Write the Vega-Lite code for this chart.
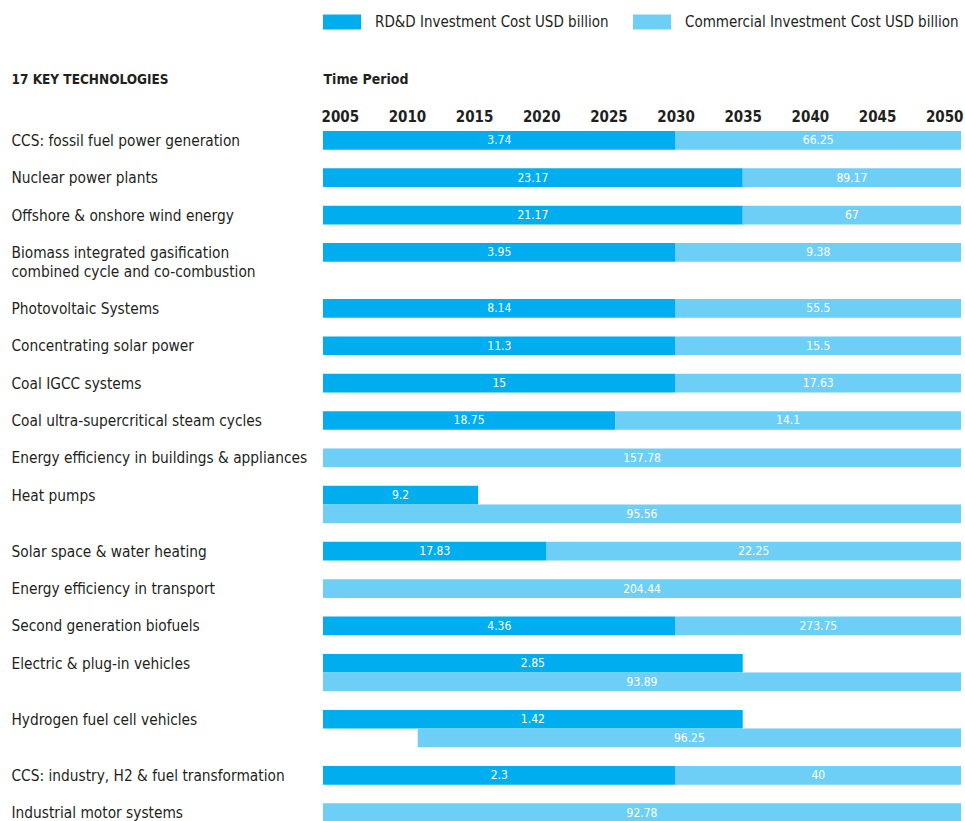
{
  "$schema": "https://vega.github.io/schema/vega-lite/v6.json",
  "width": 638,
  "height": 691,
  "autosize": {"type": "none"},
  "padding": {"left": 323, "top": 131, "right": 4, "bottom": 0},
  "background": "white",
  "config": {
    "view": {"stroke": null},
    "font": "DejaVu Sans Condensed, Liberation Sans, sans-serif"
  },
  "data": {
    "values": [
      {"tech": "CCS: fossil fuel power generation", "slot": "CCS: fossil fuel power generation", "type": "RD&D Investment Cost USD billion", "start": 2003.75, "end": 2030, "value": "3.74"},
      {"tech": "CCS: fossil fuel power generation", "slot": "CCS: fossil fuel power generation", "type": "Commercial Investment Cost USD billion", "start": 2030, "end": 2051.25, "value": "66.25"},
      {"tech": "Nuclear power plants", "slot": "Nuclear power plants", "type": "RD&D Investment Cost USD billion", "start": 2003.75, "end": 2035, "value": "23.17"},
      {"tech": "Nuclear power plants", "slot": "Nuclear power plants", "type": "Commercial Investment Cost USD billion", "start": 2035, "end": 2051.25, "value": "89.17"},
      {"tech": "Offshore & onshore wind energy", "slot": "Offshore & onshore wind energy", "type": "RD&D Investment Cost USD billion", "start": 2003.75, "end": 2035, "value": "21.17"},
      {"tech": "Offshore & onshore wind energy", "slot": "Offshore & onshore wind energy", "type": "Commercial Investment Cost USD billion", "start": 2035, "end": 2051.25, "value": "67"},
      {"tech": "Biomass integrated gasification combined cycle and co-combustion", "slot": "Biomass integrated gasification combined cycle and co-combustion", "type": "RD&D Investment Cost USD billion", "start": 2003.75, "end": 2030, "value": "3.95"},
      {"tech": "Biomass integrated gasification combined cycle and co-combustion", "slot": "Biomass integrated gasification combined cycle and co-combustion", "type": "Commercial Investment Cost USD billion", "start": 2030, "end": 2051.25, "value": "9.38"},
      {"tech": "Photovoltaic Systems", "slot": "Photovoltaic Systems", "type": "RD&D Investment Cost USD billion", "start": 2003.75, "end": 2030, "value": "8.14"},
      {"tech": "Photovoltaic Systems", "slot": "Photovoltaic Systems", "type": "Commercial Investment Cost USD billion", "start": 2030, "end": 2051.25, "value": "55.5"},
      {"tech": "Concentrating solar power", "slot": "Concentrating solar power", "type": "RD&D Investment Cost USD billion", "start": 2003.75, "end": 2030, "value": "11.3"},
      {"tech": "Concentrating solar power", "slot": "Concentrating solar power", "type": "Commercial Investment Cost USD billion", "start": 2030, "end": 2051.25, "value": "15.5"},
      {"tech": "Coal IGCC systems", "slot": "Coal IGCC systems", "type": "RD&D Investment Cost USD billion", "start": 2003.75, "end": 2030, "value": "15"},
      {"tech": "Coal IGCC systems", "slot": "Coal IGCC systems", "type": "Commercial Investment Cost USD billion", "start": 2030, "end": 2051.25, "value": "17.63"},
      {"tech": "Coal ultra-supercritical steam cycles", "slot": "Coal ultra-supercritical steam cycles", "type": "RD&D Investment Cost USD billion", "start": 2003.75, "end": 2025.5, "value": "18.75"},
      {"tech": "Coal ultra-supercritical steam cycles", "slot": "Coal ultra-supercritical steam cycles", "type": "Commercial Investment Cost USD billion", "start": 2025.5, "end": 2051.25, "value": "14.1"},
      {"tech": "Energy efficiency in buildings & appliances", "slot": "Energy efficiency in buildings & appliances", "type": "Commercial Investment Cost USD billion", "start": 2003.75, "end": 2051.25, "value": "157.78"},
      {"tech": "Heat pumps", "slot": "Heat pumps", "type": "RD&D Investment Cost USD billion", "start": 2003.75, "end": 2015.3, "value": "9.2"},
      {"tech": "Heat pumps", "slot": "Heat pumps #2", "type": "Commercial Investment Cost USD billion", "start": 2003.75, "end": 2051.25, "value": "95.56"},
      {"tech": "Solar space & water heating", "slot": "Solar space & water heating", "type": "RD&D Investment Cost USD billion", "start": 2003.75, "end": 2020.4, "value": "17.83"},
      {"tech": "Solar space & water heating", "slot": "Solar space & water heating", "type": "Commercial Investment Cost USD billion", "start": 2020.4, "end": 2051.25, "value": "22.25"},
      {"tech": "Energy efficiency in transport", "slot": "Energy efficiency in transport", "type": "Commercial Investment Cost USD billion", "start": 2003.75, "end": 2051.25, "value": "204.44"},
      {"tech": "Second generation biofuels", "slot": "Second generation biofuels", "type": "RD&D Investment Cost USD billion", "start": 2003.75, "end": 2030, "value": "4.36"},
      {"tech": "Second generation biofuels", "slot": "Second generation biofuels", "type": "Commercial Investment Cost USD billion", "start": 2030, "end": 2051.25, "value": "273.75"},
      {"tech": "Electric & plug-in vehicles", "slot": "Electric & plug-in vehicles", "type": "RD&D Investment Cost USD billion", "start": 2003.75, "end": 2035, "value": "2.85"},
      {"tech": "Electric & plug-in vehicles", "slot": "Electric & plug-in vehicles #2", "type": "Commercial Investment Cost USD billion", "start": 2003.75, "end": 2051.25, "value": "93.89"},
      {"tech": "Hydrogen fuel cell vehicles", "slot": "Hydrogen fuel cell vehicles", "type": "RD&D Investment Cost USD billion", "start": 2003.75, "end": 2035, "value": "1.42"},
      {"tech": "Hydrogen fuel cell vehicles", "slot": "Hydrogen fuel cell vehicles #2", "type": "Commercial Investment Cost USD billion", "start": 2010.8, "end": 2051.25, "value": "96.25"},
      {"tech": "CCS: industry, H2 & fuel transformation", "slot": "CCS: industry, H2 & fuel transformation", "type": "RD&D Investment Cost USD billion", "start": 2003.75, "end": 2030, "value": "2.3"},
      {"tech": "CCS: industry, H2 & fuel transformation", "slot": "CCS: industry, H2 & fuel transformation", "type": "Commercial Investment Cost USD billion", "start": 2030, "end": 2051.25, "value": "40"},
      {"tech": "Industrial motor systems", "slot": "Industrial motor systems", "type": "Commercial Investment Cost USD billion", "start": 2003.75, "end": 2051.25, "value": "92.78"}
    ]
  },
  "encoding": {
    "y": {
      "field": "slot",
      "type": "nominal",
      "scale": {
        "domain": [
          "CCS: fossil fuel power generation", "_g1",
          "Nuclear power plants", "_g2",
          "Offshore & onshore wind energy", "_g3",
          "Biomass integrated gasification combined cycle and co-combustion", "_g4", "_g5",
          "Photovoltaic Systems", "_g6",
          "Concentrating solar power", "_g7",
          "Coal IGCC systems", "_g8",
          "Coal ultra-supercritical steam cycles", "_g9",
          "Energy efficiency in buildings & appliances", "_g10",
          "Heat pumps", "Heat pumps #2", "_g11",
          "Solar space & water heating", "_g12",
          "Energy efficiency in transport", "_g13",
          "Second generation biofuels", "_g14",
          "Electric & plug-in vehicles", "Electric & plug-in vehicles #2", "_g15",
          "Hydrogen fuel cell vehicles", "Hydrogen fuel cell vehicles #2", "_g16",
          "CCS: industry, H2 & fuel transformation", "_g17",
          "Industrial motor systems"
        ],
        "paddingInner": 0,
        "paddingOuter": 0
      },
      "axis": {
        "orient": "left",
        "domain": false,
        "ticks": false,
        "grid": false,
        "labelAlign": "left",
        "labelPadding": 312,
        "labelLimit": 300,
        "labelOverlap": false,
        "labelBound": false,
        "labelFontSize": 15.3,
        "labelColor": "#231f20",
        "labelLineHeight": 19,
        "labelOffset": 0.5,
        "labelExpr": "indexof(datum.value, '_') == 0 || indexof(datum.value, '#') >= 0 ? '' : (indexof(datum.value, 'Biomass') == 0 ? ['Biomass integrated gasification', 'combined cycle and co-combustion'] : datum.value)",
        "title": "17 KEY TECHNOLOGIES",
        "titleAngle": 0,
        "titleX": -312,
        "titleY": -52,
        "titleAlign": "left",
        "titleBaseline": "middle",
        "titleFontSize": 13.5,
        "titleFontWeight": "bold",
        "titleColor": "#231f20"
      }
    }
  },
  "layer": [
    {
      "mark": {"type": "bar", "cornerRadius": 0},
      "encoding": {
        "x": {
          "field": "start",
          "type": "quantitative",
          "scale": {"domain": [2003.75, 2051.25], "nice": false, "zero": false},
          "axis": {
            "orient": "top",
            "values": [2005, 2010, 2015, 2020, 2025, 2030, 2035, 2040, 2045, 2050],
            "format": "d",
            "domain": false,
            "ticks": false,
            "grid": false,
            "labelFontSize": 15,
            "labelFontWeight": "bold",
            "labelColor": "#231f20",
            "labelPadding": 7,
            "labelFlush": false,
            "labelOverlap": false,
            "title": "Time Period",
            "titleX": 0,
            "titleY": -52,
            "titleAlign": "left",
            "titleAnchor": "start",
            "titleBaseline": "middle",
            "titleFontSize": 14,
            "titleFontWeight": "bold",
            "titleColor": "#231f20"
          }
        },
        "x2": {"field": "end"},
        "color": {
          "field": "type",
          "type": "nominal",
          "scale": {
            "domain": ["RD&D Investment Cost USD billion", "Commercial Investment Cost USD billion"],
            "range": ["#00aeef", "#6dcff6"]
          },
          "legend": {
            "orient": "none",
            "legendX": 0,
            "legendY": -128,
            "direction": "horizontal",
            "title": null,
            "symbolType": "M-1,-0.4H1V0.4H-1Z",
            "symbolSize": 1444,
            "symbolStrokeWidth": 0,
            "labelFontSize": 15,
            "labelColor": "#231f20",
            "labelOffset": 14,
            "labelLimit": 400,
            "columnPadding": 24,
            "padding": 0
          }
        }
      }
    },
    {
      "transform": [{"fold": ["start", "end"], "as": ["bound", "year"]}],
      "mark": {"type": "text", "color": "white", "fontSize": 12, "baseline": "middle", "align": "center"},
      "encoding": {
        "x": {"aggregate": "mean", "field": "year", "type": "quantitative"},
        "detail": {"field": "type", "type": "nominal"},
        "text": {"field": "value", "type": "nominal"}
      }
    }
  ]
}
